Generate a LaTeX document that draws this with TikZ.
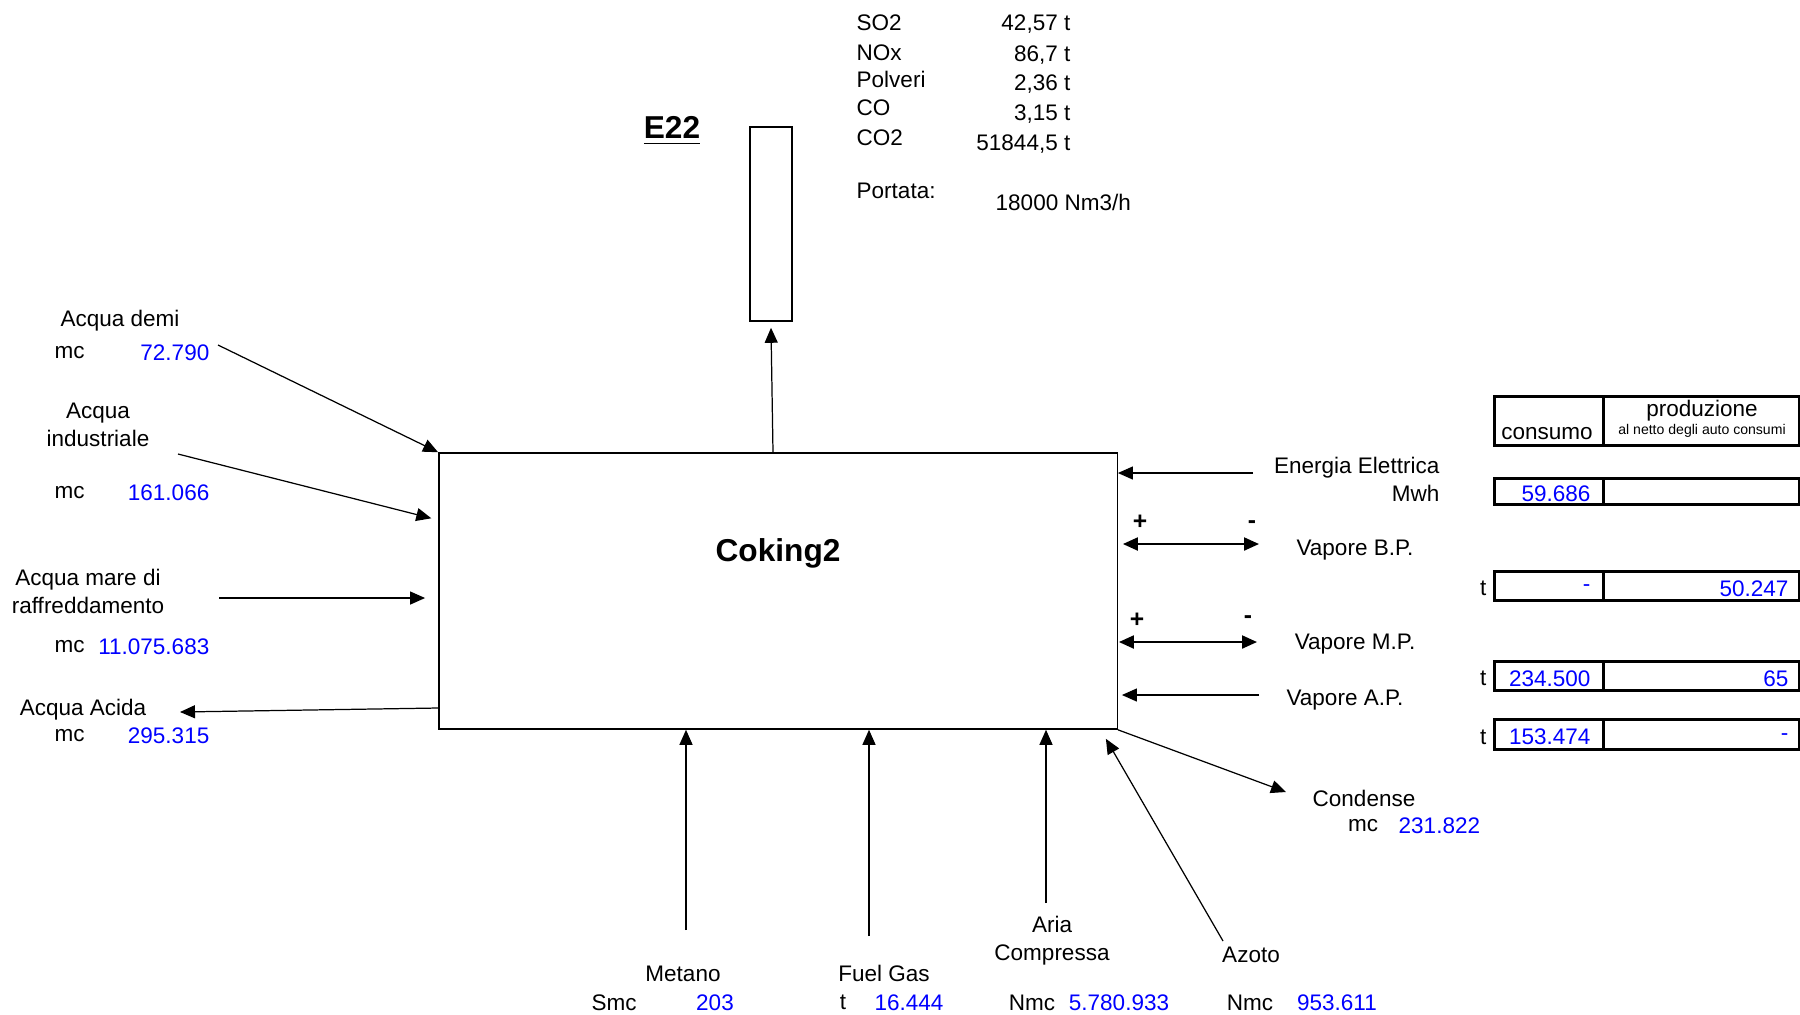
\documentclass[tikz,border=0pt]{standalone}
\usepackage{fontspec}
\setmainfont{Liberation Sans}
\usepackage{xcolor}
\usepackage{tikz}
\usetikzlibrary{arrows.meta,positioning}
\definecolor{blu}{RGB}{0,0,255}

\begin{document}
\begin{tikzpicture}[x=0.01cm,y=-0.01cm,
testo/.style={inner sep=0pt,font=\fontsize{6.4}{8}\selectfont,align=center,yshift=-0.025cm},
unita/.style={testo,anchor=west},
cifra/.style={testo,text=blu,anchor=east},
titolo/.style={inner sep=0pt,font=\fontsize{9}{11}\selectfont\bfseries},
segno/.style={inner sep=0pt,font=\fontsize{7}{8}\selectfont\bfseries},
cella/.style={draw,line width=0.85pt,inner sep=0pt,anchor=north west},
freccia/.style={-{Triangle[length=1.5mm,width=1.3mm]},line width=0.35pt},
doppia/.style={{Triangle[length=1.5mm,width=1.3mm]}-{Triangle[length=1.5mm,width=1.3mm]},line width=0.6pt}
]
\useasboundingbox (0,0) rectangle (1800,1014);

\node[draw,line width=0.4pt,minimum width=6.78cm,minimum height=2.76cm] (coking) at (778,591) {};
\node[titolo] (nomecoking) at (778,553) {Coking2};
\node[draw,line width=0.4pt,minimum width=0.42cm,minimum height=1.94cm] (camino) at (771,224) {};
\node[titolo] (e22) at (672,131) {\underline{E22}};

% emissioni
\node[unita] (so2) at (856,20) {SO2};
\node[unita] (nox) at (856,50) {NOx};
\node[unita] (polveri) at (856,77) {Polveri};
\node[unita] (co) at (856,105) {CO};
\node[unita] (co2) at (856,135) {CO2};
\node[testo,anchor=east] (vso2) at (1071,22) {42,57 t};
\node[testo,anchor=east] (vnox) at (1071,53) {86,7 t};
\node[testo,anchor=east] (vpolveri) at (1071,82) {2,36 t};
\node[testo,anchor=east] (vco) at (1071,112) {3,15 t};
\node[testo,anchor=east] (vco2) at (1071,142) {51844,5 t};
\node[unita] (portata) at (856,188) {Portata:};
\node[unita] (vportata) at (995,200) {18000 Nm3/h};

% ingressi a sinistra
\node[testo] (tdemi) at (120,318) {Acqua demi};
\node[unita] (mcdemi) at (54,350) {mc};
\node[cifra] (vdemi) at (210,350) {72.790};
\node[testo] (tind) at (98,422) {Acqua\\industriale};
\node[unita] (mcind) at (54,490) {mc};
\node[cifra] (vind) at (210,490) {161.066};
\node[testo] (tmare) at (88,589) {Acqua mare di\\raffreddamento};
\node[unita] (mcmare) at (54,644) {mc};
\node[cifra] (vmare) at (210,644) {11.075.683};
\node[testo] (tacida) at (83,707) {Acqua Acida};
\node[unita] (mcacida) at (54,733) {mc};
\node[cifra] (vacida) at (210,733) {295.315};

\coordinate (pdemi) at (218,345);
\coordinate (pind) at (178,454);
\coordinate (pmare) at (219,598);
\coordinate (pacida) at (180,712);

% lato destro
\node[testo,align=right,anchor=east] (energia) at (1440,477) {Energia Elettrica\\Mwh};
\node[segno] (piubp) at (1140,522) {+};
\node[segno] (menobp) at (1252,525) {-};
\node[testo] (tbp) at (1355,548) {Vapore B.P.};
\node[segno] (piump) at (1137,620) {+};
\node[segno] (menomp) at (1248,620) {-};
\node[testo] (tmp) at (1355,642) {Vapore M.P.};
\node[testo] (tap) at (1345,698) {Vapore A.P.};
\node[testo] (tcondense) at (1364,796) {Condense};
\node[testo] (mccondense) at (1363,823) {mc};
\node[testo,text=blu,anchor=west] (vcondense) at (1398,823) {231.822};

\coordinate (penergia) at (1253,473);
\coordinate (pbp) at (1259,544);
\coordinate (pmp) at (1257,642);
\coordinate (pap) at (1259,695);
\coordinate (pcondense) at (1286,792);

% ingressi dal basso
\node[testo] (tmetano) at (683,971) {Metano};
\node[testo] (smc) at (614,1000) {Smc};
\node[testo,text=blu] (vmetano) at (715,1000) {203};
\node[testo] (tfuel) at (884,971) {Fuel Gas};
\node[testo] (tfg) at (843,1000) {t};
\node[testo,text=blu] (vfuel) at (909,1000) {16.444};
\node[testo] (taria) at (1052,938) {Aria\\Compressa};
\node[testo] (nmcaria) at (1032,1000) {Nmc};
\node[testo,text=blu] (varia) at (1119,1000) {5.780.933};
\node[testo] (tazoto) at (1251,952) {Azoto};
\node[testo] (nmcazoto) at (1250,1000) {Nmc};
\node[testo,text=blu] (vazoto) at (1337,1000) {953.611};

\coordinate (pmetano) at (686,930);
\coordinate (pfuel) at (869,936);
\coordinate (paria) at (1046,903);
\coordinate (pazoto) at (1223,941);

% tabella consumo / produzione
\node[cella,minimum width=1.09cm,minimum height=0.49cm] (cons0) at (1493,395) {};
\node[cella,minimum width=1.96cm,minimum height=0.49cm] (prod0) at (1602,395) {};
\node[testo] (consumo) at (1547,431) {consumo};
\node[testo] (produzione) at (1702,408) {produzione};
\node[inner sep=0pt,font=\fontsize{4}{5}\selectfont] (netto) at (1702,431) {al netto degli auto consumi};
\foreach \r/\ytop/\alt in {1/477/0.26,2/570/0.29,3/660/0.29,4/718/0.30} {
  \node[cella,minimum width=1.09cm,minimum height=\alt cm] (cons\r) at (1493,\ytop) {};
  \node[cella,minimum width=1.96cm,minimum height=\alt cm] (prod\r) at (1602,\ytop) {};
}
\node[cifra,left=1.4mm of cons1.east] (vcons1) {59.686};
\node[cifra,left=1.4mm of cons2.east] (vcons2) {-};
\node[cifra,left=1.2mm of prod2.east] (vprod2) {50.247};
\node[cifra,left=1.4mm of cons3.east] (vcons3) {234.500};
\node[cifra,left=1.2mm of prod3.east] (vprod3) {65};
\node[cifra,left=1.4mm of cons4.east] (vcons4) {153.474};
\node[cifra,left=1.2mm of prod4.east] (vprod4) {-};
\node[testo,left=0.6mm of cons2.west] (t2) {t};
\node[testo,left=0.6mm of cons3.west] (t3) {t};
\node[testo,left=0.6mm of cons4.west] (t4) {t};

% frecce
\draw[freccia] ([xshift=-0.05cm]coking.north) -- ([yshift=-0.06cm]camino.south);
\draw[freccia] (pdemi) -- (coking.north west);
\draw[freccia,shorten >=0.7mm] (pind) -- (coking.west |- 0,520);
\draw[freccia,shorten >=1.3mm] (pmare) -- (coking.west |- 0,598);
\draw[freccia] (coking.west |- 0,708) -- (pacida);
\draw[freccia] (penergia) -- (coking.east |- 0,473);
\draw[doppia,shorten <=0.5mm] (coking.east |- 0,544) -- (pbp);
\draw[doppia,shorten <=0.1mm] (coking.east |- 0,642) -- (pmp);
\draw[freccia,shorten >=0.4mm] (pap) -- (coking.east |- 0,695);
\draw[freccia] (coking.south east) -- (pcondense);
\draw[freccia] (pmetano) -- (coking.south -| pmetano);
\draw[freccia] (pfuel) -- (coking.south -| pfuel);
\draw[freccia] (paria) -- (coking.south -| paria);
\draw[freccia] (pazoto) -- ([xshift=-0.12cm,yshift=-0.09cm]coking.south east);
\end{tikzpicture}
\end{document}
